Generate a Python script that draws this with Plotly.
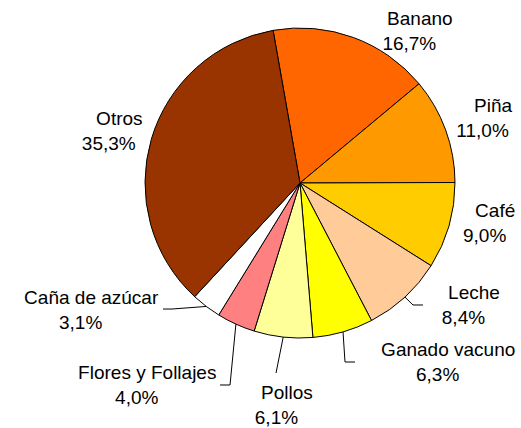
import math
import plotly.graph_objects as go

# ---- data ----
categories = ["Banano", "Piña", "Café", "Leche", "Ganado vacuno", "Pollos",
              "Flores y Follajes", "Caña de azúcar", "Otros"]
shares = [16.7, 11.0, 9.0, 8.4, 6.3, 6.1, 4.0, 3.1, 35.3]

# ---- style / layout ----
colors = ["#FF6600", "#FF9900", "#FFCC00", "#FFCC99", "#FFFF00", "#FFFF99",
          "#FF8080", "#FFFFFF", "#993300"]
W, H = 521, 428
CX, CY, R = 300, 183, 155          # pie centre / radius in pixels
ROT = -10                           # start angle of first slice (deg, clockwise from 12 o'clock)
FONT = dict(family="Liberation Sans, Arial", size=19, color="black")

# label block centre (pixels) for each category
label_pos = [(409, 31), (483, 118), (484, 223), (463, 305), (437, 362),
             (276, 405), (136, 385), (81, 310), (109, 131)]
# leader lines: (elbow, end) in pixels, None = no leader
leaders = [None, None, None,
           ((413, 305), (423, 305)),
           ((345, 362), (355, 362)),
           ((276, 373), None),
           ((230, 385), (220, 385)),
           ((172, 309), (163, 309)),
           None]


def px(x, y):
    return x / W, 1 - y / H


fig = go.Figure(go.Pie(
    labels=categories, values=shares, sort=False, direction="clockwise",
    rotation=ROT,
    marker=dict(colors=colors, line=dict(color="black", width=1)),
    textinfo="none", hoverinfo="label+percent",
    domain=dict(x=[(CX - R) / W, (CX + R) / W], y=[1 - (CY + R) / H, 1 - (CY - R) / H]),
    showlegend=False,
))

total = sum(shares)
cum = 0.0
annotations, shapes = [], []
for name, val, pos, lead in zip(categories, shares, label_pos, leaders):
    mid = math.radians(ROT + 360 * (cum + val / 2) / total)
    cum += val
    ax, ay = px(*pos)
    annotations.append(dict(
        x=ax, y=ay, xref="paper", yref="paper", showarrow=False,
        xanchor="center", yanchor="middle", align="center",
        text="\u00a0" * 4 + name + "<br>" + f"{val:.1f}%".replace(".", ","),
        font=FONT,
    ))
    if lead:
        pts = [(CX + R * math.sin(mid), CY - R * math.cos(mid))]
        pts += [p for p in lead if p is not None]
        path = "M " + " L ".join("%.4f,%.4f" % px(*p) for p in pts)
        shapes.append(dict(type="path", path=path, xref="paper", yref="paper",
                           line=dict(color="black", width=1)))

fig.update_layout(
    width=W, height=H, margin=dict(l=0, r=0, t=0, b=0),
    paper_bgcolor="white", plot_bgcolor="white",
    annotations=annotations, shapes=shapes,
)
fig.write_html(
    "out.html",
    config={"displayModeBar": False},
    post_script="document.body.style.margin='0';document.body.style.overflow='hidden';",
)
